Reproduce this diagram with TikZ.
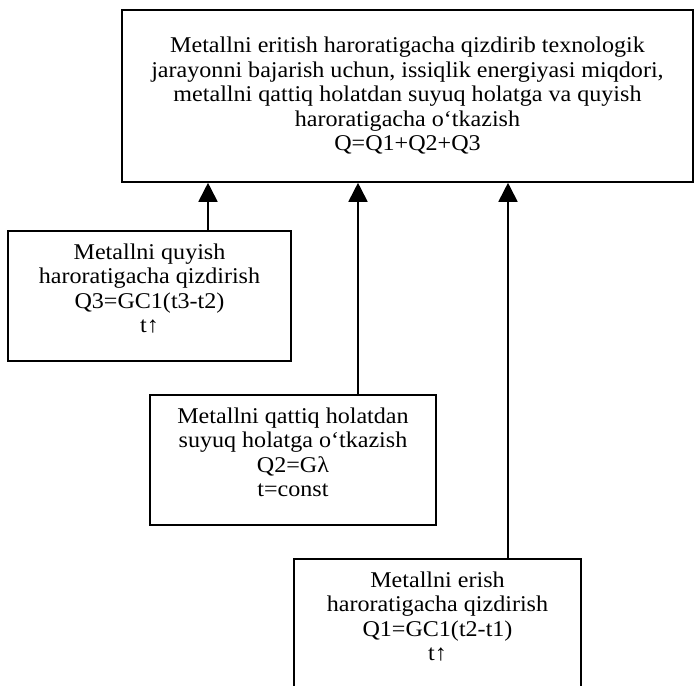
\documentclass[tikz,border=0pt]{standalone}
\usepackage{fontspec}
\setmainfont{Liberation Serif}[FakeStretch=1.07]
\usetikzlibrary{arrows.meta}
\begin{document}
\begin{tikzpicture}[x=1pt,y=-1pt,
  box/.style={draw, line width=1.6pt, align=center, inner sep=0pt,
    font=\fontsize{22.5}{24.5}\selectfont},
  arr/.style={line width=1.8pt, -{Triangle[width=19pt,length=19pt]}}]
\clip (0,0) rectangle (695,685);
\fill[white] (0,0) rectangle (695,685);
\node[box, minimum width=571pt, minimum height=172pt] (top) at (407.5,96)
  {Metallni eritish haroratigacha qizdirib texnologik\\
   jarayonni bajarish uchun, issiqlik energiyasi miqdori,\\
   metallni qattiq holatdan suyuq holatga va quyish\\
   haroratigacha o‘tkazish\\
   Q=Q1+Q2+Q3};
\node[box, minimum width=283pt, minimum height=130pt] (q3) at (149.5,296)
  {Metallni quyish\\ haroratigacha qizdirish\\ Q3=GC1(t3-t2)\\ t↑\\[-9pt]\mbox{}};
\node[box, minimum width=286pt, minimum height=130pt] (q2) at (293,460)
  {Metallni qattiq holatdan\\ suyuq holatga o‘tkazish\\ Q2=Gλ\\ t=const\\[-9pt]\mbox{}};
\node[box, minimum width=287pt, minimum height=130pt] (q1) at (437.5,624)
  {Metallni erish\\ haroratigacha qizdirish\\ Q1=GC1(t2-t1)\\ t↑\\[-9pt]\mbox{}};
\draw[arr] (q3.north -| 208,0) -- (top.south -| 208,0);
\draw[arr] (q2.north -| 358,0) -- (top.south -| 358,0);
\draw[arr] (q1.north -| 508,0) -- (top.south -| 508,0);
\end{tikzpicture}
\end{document}
